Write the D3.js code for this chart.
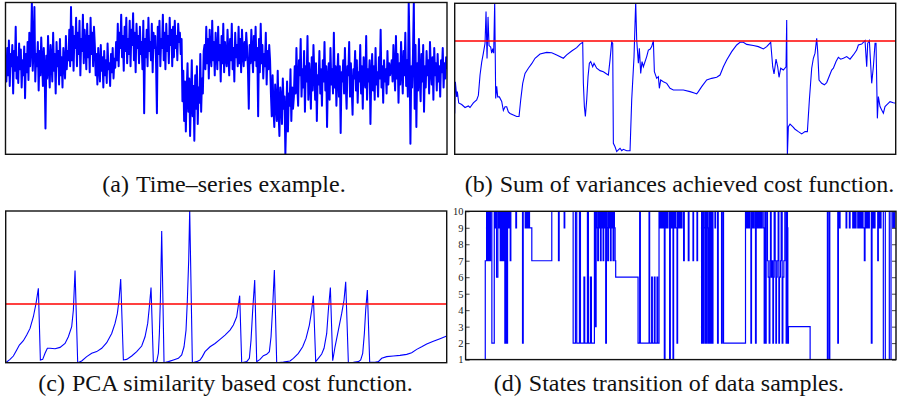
<!DOCTYPE html>
<html>
<head>
  <meta charset="utf-8">
  <title>Cost functions</title>
  <script src="https://d3js.org/d3.v7.min.js"></script>
  <style>
    body { margin: 0; background: #fff; }
    svg text { font-family: "Liberation Serif", "Times New Roman", serif; }
  </style>
</head>
<body>
<div id="container"></div>
<script>
// (a) raw time series (0 = bottom of box, 100 = top)
const seriesA = [
  62,48,70,52,75,45,66,58,72,40,68,55,84,50,64,47,73,56,69,44,62,52,71,37,66,54,74,49,80,58,70,100,
  55,70,97,48,66,58,74,42,68,52,77,60,45,70,56,17,65,50,78,58,44,72,62,48,80,55,66,40,74,58,68,46,76,52,64,44,70,60,50,78,56,68,62,82,58,97,
  62,84,55,78,70,90,58,80,66,88,52,76,68,92,60,82,72,56,86,64,78,54,90,66,80,58,84,72,
  52,66,46,70,58,48,72,55,64,44,68,52,62,47,73,56,60,45,66,54,70,50,63,57,
  74,62,86,58,80,70,92,64,78,55,84,68,90,60,76,66,88,58,82,72,
  93,62,80,54,86,70,78,60,84,66,74,56,88,27,76,64,82,58,90,68,
  74,62,86,54,80,70,78,60,27,84,66,88,58,76,70,92,62,80,56,86,
  68,78,60,90,72,82,58,84,64,88,70,78,62,86,74,80,66,76,
  35,55,22,48,15,42,60,28,50,12,38,62,25,45,9,52,30,58,20,44,34,66,28,50,40,68,
  72,56,84,60,76,50,82,66,58,88,62,74,52,80,68,56,84,62,72,48,
  78,60,86,54,74,64,58,82,66,52,76,62,86,56,70,48,80,64,72,58,
  84,60,76,54,82,66,58,74,62,80,70,56,30,72,60,82,66,54,78,62,
  84,58,70,25,76,54,86,60,72,50,66,58,80,46,68,56,72,62,
  40,25,52,30,18,46,34,22,55,28,12,44,36,20,50,30,38,0,24,48,15,40,32,56,22,44,30,38,
  58,40,70,46,32,62,52,76,38,56,44,68,28,58,48,78,36,60,50,30,
  64,42,72,54,36,60,22,52,46,68,40,56,32,62,48,74,42,58,18,50,
  60,36,70,46,56,40,80,44,58,32,52,66,38,58,14,54,48,62,40,70,
  46,30,58,52,74,38,60,44,26,56,50,68,42,62,34,54,48,72,40,58,
  30,64,50,44,78,36,56,48,62,20,52,66,42,58,36,70,46,54,38,64,
  50,82,44,58,34,62,48,56,40,68,46,60,52,56,
  62,48,72,55,42,78,50,66,34,60,46,74,56,40,68,52,80,45,62,38,
  100,70,7,58,44,66,100,30,72,18,60,42,76,50,35,66,48,72,28,58,
  44,68,52,62,40,74,56,46,64,36,70,52,60,42,66,48,58,38,62,54,
  70,44,60,50,64,56
];

// (b) sum of variances cost function
const costBIdx = [0,2,6,8,12,21,31,41,46,56,66,71,76,81,86,91,94,97,100,103,108,111,114,117,120,123,126,129,134,141,146,151,156,161,166,176,186,193,198,204,211,221,231,241,256,276,291,306,326,336,351,366,376,384,386,389,392,396,400,404,408,414,418,426,436,446,456,461,466,471,474,476,481,486,491,496,501,506,516,526,531,538,543,546,551,554,558,562,566,576,581,586,591,596,599,606,611,614,618,626,636,646,656,666,686,706,721,726,731,741,756,771,786,796,806,816,831,846,856,866,876,896,911,926,936,948,954,958,961,964,969,973,978,986,994,996,998,1001,1006,1014,1021,1031,1041,1051,1058,1064,1071,1076,1081,1086,1089,1093,1101,1109,1116,1123,1131,1136,1144,1151,1158,1166,1176,1186,1196,1206,1211,1221,1231,1236,1239,1244,1251,1256,1261,1264,1268,1271,1276,1281,1286,1291,1296,1306,1316,1323];
const costBVal = [27,48,38,41.5,34,33,31,32,31,34,36,39,52.5,61,67,73.5,94.5,63.5,91,72,71,67,70,67,101,37,45,38,38,35,29,31.5,31.5,28,27,26,25,25,36,47,53.6,57,60,63.6,66.4,67.5,67.3,65.8,63.6,65.8,68.4,70.6,73,74.2,47,31.6,25,36,51.4,60.3,61.4,58,60.3,57,55.4,54.7,53.2,52.5,62.5,74.6,73.5,7.3,5,1.8,2.9,4,2.4,3.3,2.4,2.4,36,64.7,101,75.7,60.3,70.2,53.6,61.4,58,64.7,69,69.5,71.3,75.3,54.7,50.3,51.4,43.7,49.2,48.1,47,43.7,42.6,42.6,42.6,41.5,40.4,40,41.5,44.8,49.2,50.3,51,52.5,58,62.5,68,72.4,74.2,74.2,72.8,72,71.3,69.8,71.3,74.2,58,53.2,58,63,58,51,57,55.8,58,89,-1,18.3,20,18.3,16.6,15,13.5,15,15,36,57,63.6,67,76.8,68,49.2,47,46,47.5,51.4,55.8,57,61.4,64.2,63,63.6,64.7,63,65.8,69,72.4,73,75.3,58,73.5,75.3,47,58,73.5,73.5,23.8,38.2,31.6,29.4,27.2,31.6,32.7,34.9,34.2,33.8];
const thresholdB = 75;

// (c) PCA similarity based cost function
const costCIdx = [0,13,23,33,41,53,63,73,83,91,98,104,111,118,125,133,148,163,178,188,198,203,208,216,228,243,258,273,288,303,318,328,335,340,345,353,363,378,393,408,418,426,431,436,443,453,458,461,464,468,475,488,503,518,528,535,541,545,549,552,560,573,583,590,598,613,628,643,658,673,683,693,698,702,708,723,731,736,741,747,753,763,773,783,791,796,801,806,813,833,853,863,878,891,901,911,918,923,930,938,948,955,963,968,974,981,988,998,1008,1015,1020,1028,1043,1058,1065,1071,1076,1080,1085,1092,1108,1118,1128,1143,1163,1183,1203,1218,1233,1248,1263,1283,1303,1323];
const costCVal = [0,2.2,4.4,8.4,11.6,14.5,18.2,22.6,30.3,39.1,49,1.8,2.2,6.2,9.5,9.5,9.2,10.1,12.7,17.1,23.7,34.7,60.7,0,1.1,4,6.2,7.3,9.5,13.2,19.3,25.9,32.5,41.3,55.2,1.8,2.2,4.4,7.3,11,17.1,25.9,36.9,49.5,0,0.7,6.2,19.3,41.3,86.8,0,0.7,1.8,2.9,5.1,10.5,21.5,41.3,67.7,101,0,0.7,1.8,4,7.3,10.5,12.7,15.4,18.2,21.5,24.8,30.3,38,44.2,0,0.7,2.9,14.9,34.7,54.5,0.7,2.2,4.6,5.5,7.3,17.1,36.9,61.1,0,0.4,1.1,2.9,6.2,10.5,16,24.8,34.7,44.2,0.7,2.9,5.7,9.5,19.3,34.7,49.5,1.3,10.5,21.5,32.5,41.3,53.4,0,0.2,0.7,1.8,6.2,19.3,34.7,47.9,0.2,0.2,0.7,2.9,4,4.4,4.8,5.5,6.6,8.8,10.5,12.3,14.1,15.8,17.6];
const thresholdC = 39;

// (d) state of each data sample (state holds until next index)
const stateIdx = [0,19.7,21,22,23,24,25,26.3,28.7,29.5,30.3,31,32.3,33,33.7,34.7,35.3,36,37,37.7,38.3,39.3,40.3,41,42,43,43.7,44.7,45.3,50.3,51,57,57.7,59.7,60.3,61,61.7,62.7,63.3,64,66.3,86.3,93,93.7,98.7,99.3,107.7,
  110,111.3,114,115,118.5,119.3,122,123,125,126,129,130,130.7,131.7,132.3,133,133.7,134.3,135,135.7,136.3,137,137.7,138.3,139,139.7,140.3,141,141.7,142.3,143,143.7,144.3,145,145.7,146.3,147,147.7,148.3,149,149.7,150.3,172.7,
  174.3,175,183.7,184.3,186.3,187,189,189.7,191.7,192.3,193.7,194.3,195,196,196.7,197.3,198,199,199.7,200.3,201,202,202.7,204.3,205,206,206.7,207.7,208.3,209,210,210.7,211.7,212.3,213,213.7,214.7,215.3,216,216.7,
  218.3,219,223,223.7,227.7,228.3,231.7,232.3,236.3,237,237.7,238.3,239,239.7,240.3,241,241.7,242.3,243,243.7,244.3,245,245.7,246.3,247,247.7,249.7,250.3,252.3,253,256.3,257,258.3,280.3,
  281,281.7,282.3,283,283.7,284.3,285.7,286.3,287,287.7,288.3,289,290.3,291,291.7,292.3,293,293.7,294.3,295,296,296.7,298,299,299.7,300.3,301,302.3,303,304,304.7,305.3,306,306.7,307.7,308.3,309,310,310.7,311.3,312,313,313.7,314.3,315.3,316,317,317.7,318.7,319.7,321,321.7,322.3,322.7,323.3,345,
  362.3,363.7,364.7,372.7,373.3,374.3,375,381,381.7,384.3,385,387.7,388.3,389,389.7,390.3,391,392.7,393.3,394,394.7,395.3,396,396.7,397.3,398,399.3,400,400.7,401.3,402,402.7,403.3,404.3,406.3,407,408,408.7,409.3,410,412.7,413.3,414,414.7,415.3,416,418.3,420.3,424.3,426,427.7,428.3,429,429.7,431];
const stateVal = [1,7,10,7,10,7,10,2,10,9,10,6,10,9,10,7,10,7,10,7,10,2,10,2,10,9,10,7,10,9,10,2,10,9,10,9,10,9,10,9,7,10,7,10,9,10,2,
  10,2,10,2,6,2,10,2,6,2,10,3,10,9,7,10,9,10,7,10,9,10,7,10,9,10,2,10,9,7,10,9,10,7,10,9,10,7,10,9,7,6,2,
  10,2,10,2,6,2,6,2,6,2,10,9,10,9,10,9,10,1,10,9,10,9,10,1,10,9,10,1,10,9,10,9,2,10,9,10,9,10,9,10,
  7,10,7,10,7,10,7,10,2,10,2,10,9,2,10,2,10,9,2,10,2,10,2,10,2,10,9,10,2,10,2,10,2,10,
  9,10,9,10,9,10,2,10,9,10,9,10,2,10,9,10,9,10,9,10,9,10,9,2,10,2,10,7,6,2,7,10,6,7,2,6,10,7,2,6,7,10,2,6,7,10,2,6,7,10,2,10,9,2,3,1,
  10,1,10,2,10,9,10,9,10,9,10,9,10,9,10,9,10,9,10,9,10,9,10,9,10,9,7,10,9,10,9,10,9,10,2,10,9,10,9,10,7,10,9,10,9,10,1,10,1,10,9,10,9,10,10];
const stateTicks = [1,2,3,4,5,6,7,8,9,10];

const captions = [
  {tag: '(a)', text: 'Time–series example.'},
  {tag: '(b)', text: 'Sum of variances achieved cost function.'},
  {tag: '(c)', text: 'PCA similarity based cost function.'},
  {tag: '(d)', text: 'States transition of data samples.'}
];

const W = 897, H = 400;
const blue = '#0000ff', red = '#ff0000';
const serif = '"Liberation Serif", "Times New Roman", serif';

const svg = d3.select('#container').append('svg')
  .attr('width', W).attr('height', H);

// panel boxes [left, top, right, bottom]
const boxes = [
  [5.5, 2.5, 447, 154.3],
  [454.7, 3.3, 895.7, 154.3],
  [5.7, 211, 446.7, 362.7],
  [465.6, 211.3, 896, 359.6]
];

function panel(i) {
  const [l, t, r, b] = boxes[i];
  const g = svg.append('g');
  g.append('clipPath').attr('id', 'clip' + i)
    .append('rect').attr('x', l).attr('y', t).attr('width', r - l).attr('height', b - t);
  const plot = g.append('g').attr('clip-path', `url(#clip${i})`);
  return {g, plot, l, t, r, b};
}

function frame(p) {
  p.g.append('rect')
    .attr('x', p.l).attr('y', p.t)
    .attr('width', p.r - p.l).attr('height', p.b - p.t)
    .attr('fill', 'none').attr('stroke', '#111').attr('stroke-width', 1.4);
}

// (a)
{
  const p = panel(0);
  const x = d3.scaleLinear().domain([0, seriesA.length - 1]).range([p.l, p.r]);
  const y = d3.scaleLinear().domain([0, 100]).range([p.b, p.t]);
  p.plot.append('path').datum(seriesA)
    .attr('d', d3.line().x((d, i) => x(i)).y(d => y(d)))
    .attr('fill', 'none').attr('stroke', blue).attr('stroke-width', 2)
    .attr('stroke-linejoin', 'round');
  frame(p);
}

// (b) and (c)
function costPanel(i, idx, vals, thr) {
  const p = panel(i);
  const x = d3.scaleLinear().domain([0, 1323]).range([p.l, p.r]);
  const y = d3.scaleLinear().domain([0, 100]).range([p.b, p.t]);
  const ty = Math.round(y(thr));
  p.g.append('line')
    .attr('x1', p.l).attr('x2', p.r).attr('y1', ty).attr('y2', ty)
    .attr('stroke', red).attr('stroke-width', 1.6);
  p.plot.append('path').datum(d3.zip(idx, vals))
    .attr('d', d3.line().x(d => x(d[0])).y(d => y(d[1])))
    .attr('fill', 'none').attr('stroke', blue).attr('stroke-width', 1.1);
  frame(p);
}
costPanel(1, costBIdx, costBVal, thresholdB);
costPanel(2, costCIdx, costCVal, thresholdC);

// (d)
{
  const p = panel(3);
  const x = d3.scaleLinear().domain([0, 431]).range([p.l, p.r]);
  const y = d3.scaleLinear().domain([1, 10]).range([p.b, p.t]);
  p.plot.append('path').datum(d3.zip(stateIdx, stateVal))
    .attr('d', d3.line().curve(d3.curveStepAfter).x(d => x(d[0])).y(d => y(d[1])))
    .attr('fill', 'none').attr('stroke', blue).attr('stroke-width', 1.2);
  const ax = p.g.append('g').attr('transform', `translate(${p.l},0)`)
    .call(d3.axisLeft(y).tickValues(stateTicks).tickSize(-4).tickPadding(2));
  ax.attr('font-family', serif).attr('font-size', 10.5);
  ax.select('.domain').remove();
  ax.selectAll('text').attr('fill', '#222');
  ax.selectAll('line').attr('stroke', '#444');
  const axr = p.g.append('g').attr('transform', `translate(${p.r},0)`)
    .call(d3.axisRight(y).tickValues(stateTicks).tickSize(-4).tickFormat(''));
  axr.select('.domain').remove();
  axr.selectAll('line').attr('stroke', '#444');
  frame(p);
}

// captions
const capPos = [[224, 192], [679.5, 192], [225.5, 391], [669, 391]];
captions.forEach((c, i) => {
  const t = svg.append('text')
    .attr('x', capPos[i][0]).attr('y', capPos[i][1])
    .attr('text-anchor', 'middle')
    .attr('font-family', serif)
    .attr('font-size', 24).attr('fill', '#111');
  t.append('tspan').text(c.tag);
  t.append('tspan').attr('dx', 7).text(c.text);
});
</script>
</body>
</html>
